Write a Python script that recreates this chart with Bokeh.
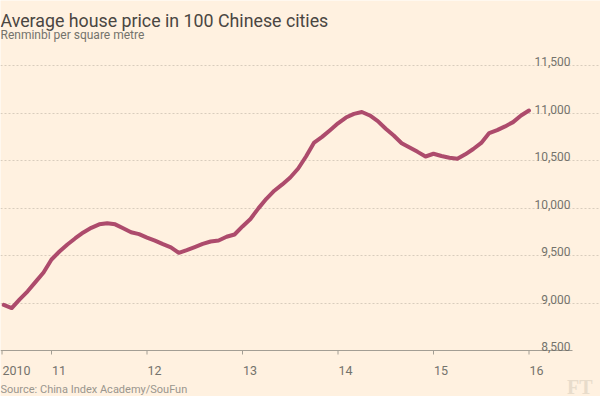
from bokeh.plotting import figure
from bokeh.models import Range1d, Label, Grid, FixedTicker, ColumnDataSource
from bokeh.core.properties import value
from bokeh.embed import file_html
from bokeh.resources import INLINE

# ---- data -------------------------------------------------------------
start_year = 2010.5          # July 2010, monthly observations
prices = [8980, 8947, 9039, 9123, 9222, 9321,                      # 2010 Jul-Dec
          9458, 9542, 9616, 9682, 9743, 9791, 9828, 9840, 9828, 9786, 9744, 9725,      # 2011
          9689, 9657, 9620, 9586, 9528, 9557, 9589, 9622, 9647, 9658, 9697, 9721,      # 2012
          9806, 9884, 9996, 10097, 10182, 10248, 10321, 10416, 10545, 10689, 10749, 10819,  # 2013
          10892, 10952, 10991, 11011, 10974, 10915, 10834, 10763, 10682, 10636, 10591, 10542,  # 2014
          10571, 10547, 10529, 10518, 10565, 10621, 10685, 10789, 10820, 10859, 10904, 10974,  # 2015
          11026]                                                      # 2016 Jan
dates = [start_year + i / 12 for i in range(len(prices))]

x_tick_pos = [2010.482, 2011, 2012, 2013, 2014, 2015, 2016]
x_tick_labels = ["2010", "11", "12", "13", "14", "15", "16"]
y_ticks = [8500, 9000, 9500, 10000, 10500, 11000, 11500]
y_tick_labels = ["8,500", "9,000", "9,500", "10,000", "10,500", "11,000", "11,500"]

title_text = "Average house price in 100 Chinese cities"
subtitle_text = "Renminbi per square metre"
source_text = "Source: China Index Academy/SouFun"

# ---- styling ---------------------------------------------------------
BG = "#fff1e0"
LINE = "#ad4b6c"
GRID = "#d8ccbd"
AXIS = "#a39e94"
LABEL = "#74736c"
FONT = "Roboto"

W, H = 600, 396
PX_YEAR = 95.5
X0 = 2011 - 51 / PX_YEAR
X1 = X0 + W / PX_YEAR
PX_UNIT = 0.095
Y0 = 8500 - (H - 350) / PX_UNIT
Y1 = 8500 + 350 / PX_UNIT
x_plot_end = X0 + 572 / PX_YEAR
x_label_right = X0 + 570 / PX_YEAR

p = figure(width=W, height=H, x_range=Range1d(X0, X1), y_range=Range1d(Y0, Y1),
           x_axis_type=None, y_axis_type=None, toolbar_location=None,
           output_backend="svg", min_border=0,
           background_fill_color=BG, border_fill_color=BG, outline_line_color=None)

# gridlines (dashed) above the baseline
grid = Grid(dimension=1, ticker=FixedTicker(ticks=y_ticks[1:]),
            grid_line_color=GRID, grid_line_dash="2 2", grid_line_width=1,
            bounds=(X0, x_plot_end))
p.add_layout(grid)

# baseline axis and ticks
p.segment(x0=[X0], y0=[y_ticks[0]], x1=[x_plot_end], y1=[y_ticks[0]],
          line_color=AXIS, line_width=1)
tick_len = 4 / PX_UNIT
p.segment(x0=x_tick_pos, y0=[y_ticks[0]] * len(x_tick_pos),
          x1=x_tick_pos, y1=[y_ticks[0] - tick_len] * len(x_tick_pos),
          line_color=AXIS, line_width=1)

# data line
src = ColumnDataSource(dict(x=dates, y=prices))
p.line("x", "y", source=src, line_width=4, line_color=LINE,
       line_join="round", line_cap="round")

# y tick labels (above gridlines, right aligned)
p.text(x=[x_label_right] * len(y_ticks), y=y_ticks, text=y_tick_labels,
       text_font=value(FONT), text_font_size="12px", text_color=LABEL,
       text_align="right", text_baseline="alphabetic", y_offset=-4)

# x tick labels (left aligned at tick)
p.text(x=x_tick_pos, y=[y_ticks[0]] * len(x_tick_pos), text=x_tick_labels,
       text_font=value(FONT), text_font_size="12.5px", text_color=LABEL,
       text_align="left", text_baseline="alphabetic", x_offset=0.5, y_offset=19.5)

# titles, source, logo
p.add_layout(Label(x=0, y=H - 19.5, x_units="screen", y_units="screen", text=title_text,
                   text_font=FONT, text_font_size="17.8px", text_color="#4a4642",
                   text_baseline="alphabetic"))
p.add_layout(Label(x=0, y=H - 34.7, x_units="screen", y_units="screen", text=subtitle_text,
                   text_font=FONT, text_font_size="12px", text_color=LABEL,
                   text_baseline="alphabetic"))
p.add_layout(Label(x=0, y=H - 389, x_units="screen", y_units="screen", text=source_text,
                   text_font=FONT, text_font_size="11px", text_color="#9a968e",
                   text_baseline="alphabetic"))
p.add_layout(Label(x=592, y=H - 386, x_units="screen", y_units="screen", text="FT",
                   text_font="Liberation Serif", text_font_size="20px",
                   text_font_style="bold", text_color="#e8dccb",
                   text_align="right", text_baseline="alphabetic"))

open("out.html", "w").write(file_html(p, INLINE))
